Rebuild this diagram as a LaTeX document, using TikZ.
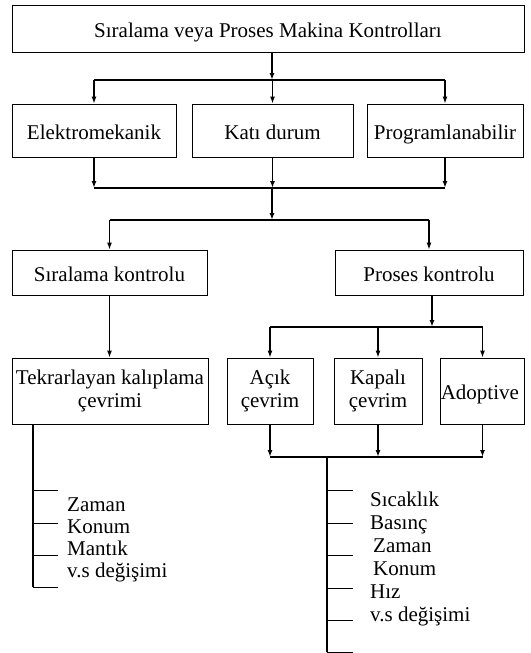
\documentclass[tikz,border=0pt]{standalone}
\usepackage{fontspec}
\setmainfont{Liberation Serif}
\usetikzlibrary{arrows.meta}
\newcommand{\dk}{\rule[-5pt]{0pt}{27pt}}
\begin{document}
\begin{tikzpicture}[x=1pt, y=-1pt,
    kutu/.style={draw, line width=0.8pt, inner sep=0pt, align=center,
      font=\fontsize{21}{23}\selectfont},
    ok/.style={-{Latex[length=7pt,width=5pt]}, line width=1.5pt},
    hat/.style={line width=1.5pt},
    dal/.style={line width=1pt},
    etiket/.style={anchor=base west, inner sep=0pt, font=\fontsize{21}{23}\selectfont}]
   \useasboundingbox (0,0) rectangle (530,653);
   % kutular
   \foreach \n/\x/\y/\w/\h/\t in
     { top/268/28.5/512/47/{\dk Sıralama veya Proses Makina Kontrolları},
      elek/94/130.5/164/53/{\dk Elektromekanik},
      kati/272.5/130.5/161/53/{\dk Katı durum},
      prog/445/130.5/156/53/{\dk Programlanabilir},
      sira/109.5/272.5/195/45/{\dk Sıralama kontrolu},
      pros/429/272.5/188/45/{\dk Proses kontrolu},
      tekr/110/391/196/66/{Tekrarlayan kalıplama\\çevrimi},
      acik/270/391/86/66/{Açık\\çevrim},
      kapa/378/391/88/66/{Kapalı\\çevrim},
      adop/482.5/391/81/66/{\dk Adoptive}
     }
     \node[kutu, minimum width=\w, minimum height=\h] (\n) at (\x,\y) {\t};

   % ust dallanma
   \coordinate (b1) at (272,80);
   \coordinate (b2) at (272,188);
   \coordinate (b3) at (272,220);
   \draw[ok] (top.south -| b1) -- (b1);
   \draw[hat] (elek.north |- b1) -- (prog.north |- b1);
   \draw[hat] (elek.south |- b2) -- (prog.south |- b2);
   \foreach \n in {elek,kati,prog} {
     \draw[ok] (\n.north |- b1) -- (\n.north);
     \draw[ok] (\n.south) -- (\n.south |- b2);
   }
   \draw[ok] (b2) -- (b3);
   \draw[hat] (sira.north |- b3) -- (pros.north |- b3);
   \foreach \n in {sira,pros} \draw[ok] (\n.north |- b3) -- (\n.north);

   % sol kol
   \draw[ok] (sira.south) -- (sira.south |- tekr.north);
   \coordinate (sol) at (33,587);
   \draw[hat] (tekr.south -| sol) -- (sol);
   \foreach \y in {490,523,555,587} \draw[dal] (33,\y) -- (58,\y);
   \foreach \y/\t [count=\i] in {511/Zaman, 533/Konum, 555/Mantık, 577/{v.s değişimi}}
     \node[etiket] (sl\i) at (67,\y) {\t};

   % sag kol
   \coordinate (b4) at (432,327);
   \coordinate (b5) at (327,457);
   \draw[ok] (pros.south -| b4) -- (b4);
   \draw[hat] (acik.north |- b4) -- (adop.north |- b4);
   \draw[hat] (acik.south |- b5) -- (adop.south |- b5);
   \foreach \n in {acik,kapa,adop} {
     \draw[ok] (\n.north |- b4) -- (\n.north);
     \draw[ok] (\n.south) -- (\n.south |- b5);
   }
   \coordinate (sag) at (327,652);
   \draw[hat] (b5) -- (sag);
   \foreach \y in {490,523,555,588,620,652} \draw[dal] (327,\y) -- (353,\y);
   \foreach \y/\x/\t [count=\i] in
     {506/370/Sıcaklık, 529/370/Basınç, 552/373/Zaman,
      575/373/Konum, 598/370/Hız, 621/370/{v.s değişimi}}
     \node[etiket] (sg\i) at (\x,\y) {\t};
\end{tikzpicture}
\end{document}
